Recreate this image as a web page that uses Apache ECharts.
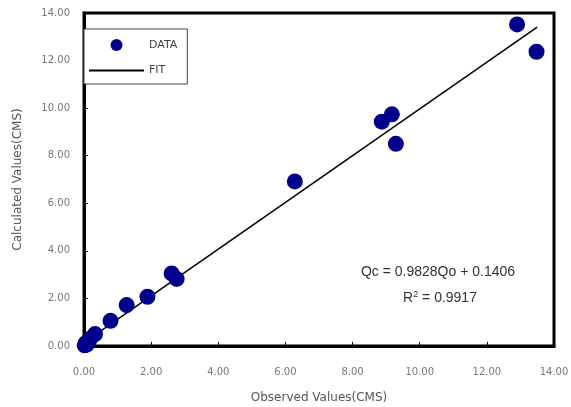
<!DOCTYPE html>
<html><head><meta charset="utf-8">
<script src="https://cdn.jsdelivr.net/npm/echarts@6/dist/echarts.min.js"></script>
<style>html,body{margin:0;padding:0;background:#fff}#c{width:571px;height:407px}</style>
</head><body><div id="c"></div>
<script>
const observed = [0.02, 0.05, 0.08, 0.12, 0.18, 0.33, 0.79, 1.27, 1.89, 2.61, 2.76, 6.28, 8.87, 9.17, 9.29, 12.9, 13.48];
const calculated = [0.03, 0.12, 0.06, 0.2, 0.3, 0.50, 1.06, 1.72, 2.07, 3.05, 2.82, 6.92, 9.43, 9.74, 8.50, 13.52, 12.37];
const fitX = [0, 13.5];
const slope = 0.9828, intercept = 0.1406;
const axisMin = 0, axisMax = 14, axisStep = 2;
const xTitle = 'Observed Values(CMS)';
const yTitle = 'Calculated Values(CMS)';

const chart = echarts.init(document.getElementById('c'));
const tickFont = {color:'#777', fontSize:10, fontFamily:'DejaVu Sans'};
function axis(name, gap, margin){
  return {type:'value', min:axisMin, max:axisMax, interval:axisStep,
    name:name, nameLocation:'middle', nameGap:gap,
    nameTextStyle:{color:'#555', fontSize:12, fontFamily:'DejaVu Sans'},
    axisLine:{show:true, lineStyle:{color:'#000', width:3}},
    axisTick:{show:true, inside:true, length:4, lineStyle:{color:'#000'}},
    splitLine:{show:false},
    axisLabel:Object.assign({formatter:v=>v.toFixed(2), margin:margin}, tickFont)};
}
chart.setOption({
  animation:false,
  grid:{left:84, right:17, top:13, bottom:61, show:true, borderColor:'#000', borderWidth:3,
        containLabel:false, outerBoundsMode:'none'},
  xAxis:axis(xTitle, 46, 21),
  yAxis:axis(yTitle, 60, 14),
  legend:{orient:'vertical', left:84, top:29, backgroundColor:'#fff',
    borderColor:'#444', borderWidth:1, padding:[10,10,8,5], itemGap:14,
    itemWidth:55, itemHeight:12,
    textStyle:{color:'#444', fontSize:11, fontFamily:'DejaVu Sans'},
    data:[{name:'DATA', icon:'circle'},
          {name:'FIT', icon:'path://M0,0H100V4H0Z', itemStyle:{color:'#000'}}]},
  graphic:[
    {type:'text', x:438, y:272, style:{text:'Qc = 0.9828Qo + 0.1406', align:'center', verticalAlign:'middle',
      fill:'#333', font:'14px "Liberation Sans"'}},
    {type:'text', x:440, y:298, style:{text:'{n|R}{s|2}{n| = 0.9917}', align:'center', verticalAlign:'middle',
      rich:{n:{fill:'#333', fontSize:14, fontFamily:'Liberation Sans'}, s:{fill:'#333', fontSize:9, fontFamily:'Liberation Sans', verticalAlign:'top', padding:[0,0,6,0]}}}}
  ],
  series:[
    {name:'FIT', type:'line', symbol:'none', z:2,
     lineStyle:{color:'#000', width:1.5},
     data:fitX.map(x=>[x, slope*x+intercept])},
    {name:'DATA', type:'scatter', symbolSize:16, z:3,
     itemStyle:{color:'#00008b', opacity:1},
     data:observed.map((x,i)=>[x, calculated[i]])}
  ]
});
</script></body></html>
